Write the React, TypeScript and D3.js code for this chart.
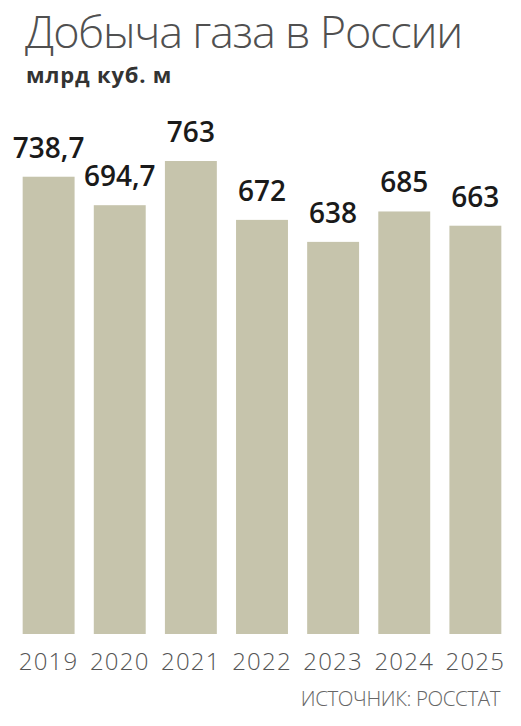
import React from 'react'
import * as d3 from 'd3'

const years = ['2019', '2020', '2021', '2022', '2023', '2024', '2025']
const values = [738.7, 694.7, 763, 672, 638, 685, 663]
const labels = ['738,7', '694,7', '763', '672', '638', '685', '663']

const width = 521
const height = 726
const barColor = '#c6c4ac'
const font = '"Open Sans", "Segoe UI", sans-serif'

function App() {
    const x = d3.scaleBand()
        .domain(years)
        .range([12, 512])
        .paddingInner(0.27)
        .paddingOuter(0.15)

    // baseline sits a bit above zero in the original
    const y = d3.scaleLinear()
        .domain([32, 763])
        .range([634, 161])

    return (
        <svg width={width} height={height} style={{ position: 'absolute', left: 0, top: 0, background: '#fff' }}>
            <text x={25} y={48} fontFamily={font} fontWeight={300} fontSize={45} letterSpacing={-1.2} fill="#505050">Добыча газа в России</text>
            <text x={26} y={83} fontFamily={font} fontWeight={700} fontSize={22} letterSpacing={0.8} fill="#333">млрд куб. м</text>
            {years.map((yr, i) => (
                <g key={yr}>
                    <rect x={x(yr)} y={y(values[i])} width={x.bandwidth()} height={y(32) - y(values[i])} fill={barColor} />
                    <text x={x(yr)! + x.bandwidth() / 2} y={y(values[i]) - 19} textAnchor="middle"
                        fontFamily={font} fontWeight={600} fontSize={28} fill="#1a1a1a">{labels[i]}</text>
                    <text x={x(yr)! + x.bandwidth() / 2} y={670} textAnchor="middle"
                        fontFamily={font} fontWeight={300} fontSize={24} letterSpacing={1.2} fill="#555">{yr}</text>
                </g>
            ))}
            <text x={500} y={706} textAnchor="end" fontFamily={font} fontWeight={300} fontSize={20.5} letterSpacing={-0.4} fill="#666">ИСТОЧНИК: РОССТАТ</text>
        </svg>
    )
}

export default App
